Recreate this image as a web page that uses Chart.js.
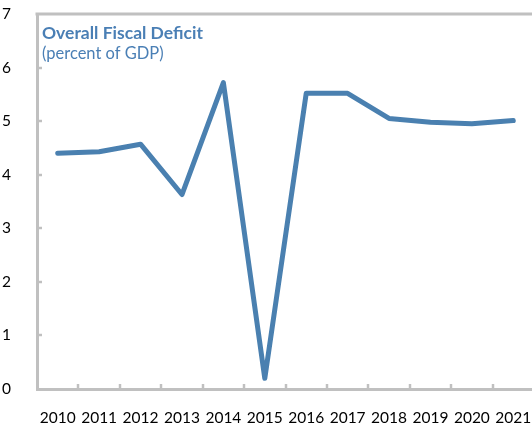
<!DOCTYPE html>
<html>
<head>
<meta charset="utf-8">
<script src="https://cdn.jsdelivr.net/npm/chart.js@4"></script>
<style>
  html, body { margin: 0; padding: 0; background: #fff; overflow: hidden; }
  .wrap { position: relative; width: 534px; height: 423px; }
</style>
</head>
<body>
<div class="wrap"><canvas id="deficitChart"></canvas></div>
<script>
const years = ['2010', '2011', '2012', '2013', '2014', '2015', '2016', '2017', '2018', '2019', '2020', '2021'];
const deficit = [4.40, 4.43, 4.57, 3.63, 5.72, 0.20, 5.52, 5.52, 5.05, 4.98, 4.95, 5.01];
const yTicks = [0, 1, 2, 3, 4, 5, 6, 7];

const axisGrey = '#c0c0c0';
const lineBlue = '#4a80b0';

// inner tick marks, top rule and the title block inside the plot
const decorations = {
  id: 'decorations',
  afterDraw(chart) {
    const { ctx, chartArea, scales } = chart;
    ctx.save();
    ctx.strokeStyle = axisGrey;
    ctx.lineWidth = 3;
    ctx.beginPath();
    ctx.moveTo(chartArea.left - 1.5, chartArea.top);
    ctx.lineTo(chart.width, chartArea.top);
    ctx.stroke();

    ctx.lineWidth = 2.5;
    yTicks.slice(1, -1).forEach(v => {
      const y = Math.round(scales.y.getPixelForValue(v));
      ctx.beginPath();
      ctx.moveTo(chartArea.left, y);
      ctx.lineTo(chartArea.left + 5, y);
      ctx.stroke();
    });
    const x = scales.x;
    for (let i = 1; i < years.length; i++) {
      const px = Math.round((x.getPixelForValue(i - 1) + x.getPixelForValue(i)) / 2);
      ctx.beginPath();
      ctx.moveTo(px, chartArea.bottom);
      ctx.lineTo(px, chartArea.bottom - 5);
      ctx.stroke();
    }

    ctx.fillStyle = '#4a7fb5';
    ctx.textBaseline = 'alphabetic';
    ctx.font = 'bold 17.5px Lato, "Open Sans", sans-serif';
    ctx.fillText('Overall Fiscal Deficit', chartArea.left + 5, chartArea.top + 25);
    ctx.font = '16.5px Lato, "Open Sans", sans-serif';
    ctx.fillText('(percent of GDP)', chartArea.left + 5, chartArea.top + 45);
    ctx.restore();
  }
};

new Chart(document.getElementById('deficitChart'), {
  type: 'line',
  data: {
    labels: years,
    datasets: [{
      label: 'Overall Fiscal Deficit',
      data: deficit,
      borderColor: lineBlue,
      borderWidth: 5,
      pointRadius: 0,
      tension: 0,
      borderJoinStyle: 'round',
      borderCapStyle: 'round'
    }]
  },
  options: {
    responsive: true,
    maintainAspectRatio: false,
    animation: false,
    layout: { padding: { top: 14, right: 0, left: 0, bottom: 0 } },
    plugins: { legend: { display: false }, tooltip: { enabled: false } },
    scales: {
      x: {
        offset: true,
        grid: { display: false },
        border: { color: axisGrey, width: 3 },
        ticks: { color: '#000', font: { family: 'Lato, "Open Sans", sans-serif', size: 15.5 }, padding: 12, maxRotation: 0, autoSkip: false },
        afterFit(scale) { scale.height = 34; scale.paddingLeft = 0; scale.paddingRight = 0; }
      },
      y: {
        min: 0,
        max: 7,
        grid: { display: false },
        border: { color: axisGrey, width: 3 },
        ticks: { stepSize: 1, color: '#000', font: { family: 'Lato, "Open Sans", sans-serif', size: 15.5 }, padding: 18 },
        afterFit(scale) { scale.width = 37; scale.paddingTop = 0; scale.paddingBottom = 0; }
      }
    }
  },
  plugins: [decorations]
});
</script>
</body>
</html>
